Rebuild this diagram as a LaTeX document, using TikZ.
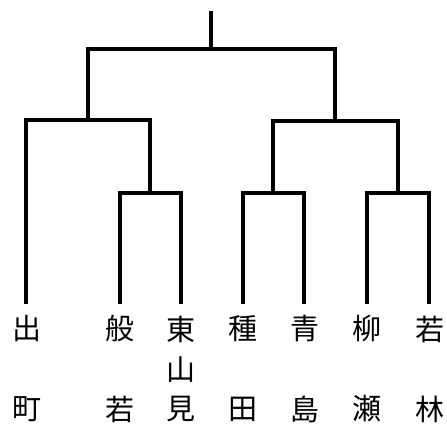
\documentclass[tikz,border=0pt]{standalone}
\usepackage{fontspec}
\newfontfamily\cjk{Noto Sans CJK JP}
\begin{document}
\begin{tikzpicture}[x=1pt,y=-1pt,
  br/.style={line width=4pt,line join=miter,line cap=rect},
  lbl/.style={font=\cjk\fontsize{29}{29}\selectfont,inner sep=0pt,anchor=center}]
\useasboundingbox (0,0) rectangle (447,425);
% leaf tops
\coordinate (l1) at (26,302);
\coordinate (l2) at (120,302);
\coordinate (l3) at (181,302);
\coordinate (l4) at (243,302);
\coordinate (l5) at (304,302);
\coordinate (l6) at (367,302);
\coordinate (l7) at (429,302);
% junctions
\coordinate (j23) at (150,193);
\coordinate (j45) at (273,193);
\coordinate (j67) at (398,193);
\coordinate (jL) at (88,120);
\coordinate (jR) at (335,121);
\coordinate (jT) at (211,49);
\coordinate (top) at (211,13);
% brackets
\draw[br] (l2) |- (j23) -| (l3);
\draw[br] (l4) |- (j45) -| (l5);
\draw[br] (l6) |- (j67) -| (l7);
\draw[br] (l1) |- (jL) -| (j23);
\draw[br] (j45) |- (jR) -| (j67);
\draw[br] (jL) |- (jT) -| (jR);
\draw[br] (jT) -- (top);
% labels
\node[lbl] (a1) at (27,329) {出};
\node[lbl] (a2) at (27,409) {町};
\node[lbl] (b1) at (120,329) {般};
\node[lbl] (b2) at (120,409) {若};
\node[lbl] (c1) at (181,329) {東};
\node[lbl] (c2) at (181,370) {山};
\node[lbl] (c3) at (181,409) {見};
\node[lbl] (d1) at (243,329) {種};
\node[lbl] (d2) at (243,409) {田};
\node[lbl] (e1) at (305,329) {青};
\node[lbl] (e2) at (305,409) {島};
\node[lbl] (f1) at (367,329) {柳};
\node[lbl] (f2) at (367,409) {瀬};
\node[lbl] (g1) at (430,329) {若};
\node[lbl] (g2) at (430,409) {林};
\end{tikzpicture}
\end{document}
